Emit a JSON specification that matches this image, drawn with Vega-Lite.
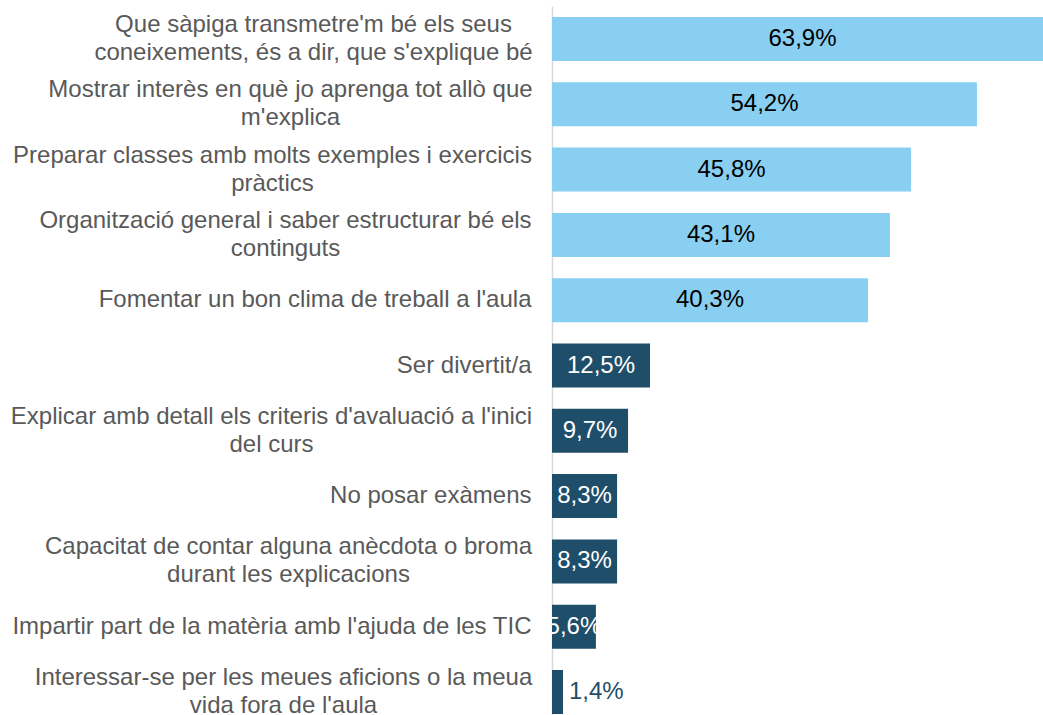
{
  "$schema": "https://vega.github.io/schema/vega-lite/v6.json",
  "autosize": "none",
  "padding": {"left": 552, "top": 6, "right": 0, "bottom": 0},
  "width": 491,
  "height": 709,
  "background": "white",
  "config": {
    "view": {"stroke": null},
    "locale": {"number": {"decimal": ",", "thousands": ".", "grouping": [3], "currency": ["", " €"]}},
    "font": "Liberation Sans"
  },
  "data": {
    "values": [
      {"label": "Que sàpiga transmetre'm bé els seus|coneixements, és a dir, que s'explique bé", "valor": 0.639, "grup": "A"},
      {"label": "Mostrar interès en què jo aprenga tot allò que|m'explica", "valor": 0.542, "grup": "A"},
      {"label": "Preparar classes amb molts exemples i exercicis|pràctics", "valor": 0.458, "grup": "A"},
      {"label": "Organització general i saber estructurar bé els|continguts", "valor": 0.431, "grup": "A"},
      {"label": "Fomentar un bon clima de treball a l'aula", "valor": 0.403, "grup": "A"},
      {"label": "Ser divertit/a", "valor": 0.125, "grup": "B"},
      {"label": "Explicar amb detall els criteris d'avaluació a l'inici|del curs", "valor": 0.097, "grup": "B"},
      {"label": "No posar exàmens", "valor": 0.083, "grup": "B"},
      {"label": "Capacitat de contar alguna anècdota o broma|durant les explicacions", "valor": 0.083, "grup": "B"},
      {"label": "Impartir part de la matèria amb l'ajuda de les TIC", "valor": 0.056, "grup": "B"},
      {"label": "Interessar-se per les meues aficions o la meua|vida fora de l'aula", "valor": 0.014, "grup": "B"}
    ]
  },
  "encoding": {
    "y": {
      "field": "label",
      "type": "nominal",
      "sort": null,
      "title": null,
      "scale": {"range": [0, 719], "paddingInner": 0.326, "paddingOuter": 0.168},
      "axis": {
        "domain": true,
        "domainColor": "#d9d9d9",
        "domainWidth": 1.5,
        "ticks": false,
        "labelExpr": "split(datum.value, '|')",
        "labelFont": "Liberation Sans",
        "labelFontSize": 24,
        "labelColor": "#595959",
        "labelLimit": 0,
        "labelLineHeight": 28,
        "labelBaseline": "middle",
        "labelAlign": {"condition": {"test": "indexof(datum.value, '|') >= 0", "value": "center"}, "value": "right"},
        "labelOffset": {"condition": {"test": "indexof(datum.value, '|') >= 0", "value": -14}, "value": 0},
        "labelPadding": {
          "condition": [
            {"test": "indexof(datum.value, 'Que s') === 0", "value": 239},
            {"test": "indexof(datum.value, 'Mostrar') === 0", "value": 262},
            {"test": "indexof(datum.value, 'Preparar') === 0", "value": 280},
            {"test": "indexof(datum.value, 'Organitz') === 0", "value": 267},
            {"test": "indexof(datum.value, 'Explicar') === 0", "value": 281},
            {"test": "indexof(datum.value, 'Capacitat') === 0", "value": 264},
            {"test": "indexof(datum.value, 'Interessar') === 0", "value": 269}
          ],
          "value": 21
        }
      }
    }
  },
  "layer": [
    {
      "mark": {"type": "bar", "clip": true},
      "encoding": {
        "x": {"field": "valor", "type": "quantitative", "axis": null, "scale": {"domain": [0, 0.639], "range": [0, 501], "nice": false}},
        "color": {"field": "grup", "type": "nominal", "legend": null, "scale": {"domain": ["A", "B"], "range": ["#88CFF2", "#1F4E6A"]}}
      }
    },
    {
      "transform": [{"filter": "datum.valor >= 0.03"}, {"calculate": "datum.valor / 2", "as": "mig"}],
      "mark": {"type": "text", "align": "center", "baseline": "middle", "fontSize": 24, "font": "Liberation Sans"},
      "encoding": {
        "x": {"field": "mig", "type": "quantitative"},
        "text": {"field": "valor", "type": "quantitative", "format": ".1%"},
        "color": {"condition": {"test": "datum.grup === 'A'", "value": "#000000"}, "value": "#ffffff"}
      }
    },
    {
      "transform": [{"filter": "datum.valor < 0.03"}],
      "mark": {"type": "text", "align": "left", "baseline": "middle", "dx": 6, "fontSize": 24, "font": "Liberation Sans", "color": "#1F4E6A"},
      "encoding": {
        "x": {"field": "valor", "type": "quantitative"},
        "text": {"field": "valor", "type": "quantitative", "format": ".1%"}
      }
    }
  ]
}
